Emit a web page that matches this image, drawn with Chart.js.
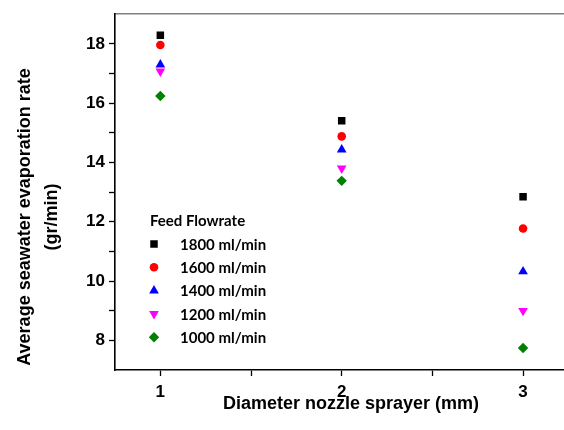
<!DOCTYPE html>
<html>
<head>
<meta charset="utf-8">
<script src="https://cdn.jsdelivr.net/npm/chart.js@4/dist/chart.umd.min.js"></script>
<style>
  html, body { margin: 0; padding: 0; background: #fff; overflow: hidden; }
  #wrap { width: 574px; height: 430px; }
</style>
</head>
<body>
<div id="wrap"><canvas id="evap" width="574" height="430"></canvas></div>
<script>
// nozzle diameter (mm)
const diameters = [1, 2, 3];
// evaporation rate (gr/min) per feed flowrate
const f1800 = [18.29, 15.41, 12.84];
const f1600 = [17.96, 14.88, 11.77];
const f1400 = [17.30, 14.43, 10.32];
const f1200 = [17.07, 13.80, 9.00];
const f1000 = [16.24, 13.38, 7.74];

const seriesNames = ["1800 ml/min", "1600 ml/min", "1400 ml/min", "1200 ml/min", "1000 ml/min"];
const xTicks = [1, 1.5, 2, 2.5, 3];
const xTickLabels = [1, 2, 3];
const yTicks = [8, 9, 10, 11, 12, 13, 14, 15, 16, 17, 18];
const yTickLabels = [8, 10, 12, 14, 16, 18];

const FONT = "'Liberation Sans', Arial, sans-serif";

function pts(ys) {
  return diameters.map((d, i) => ({ x: d, y: ys[i] }));
}

function mkSet(label, ys, color, style, r, rot) {
  return {
    label: label,
    data: pts(ys),
    backgroundColor: color,
    borderColor: color,
    borderWidth: 0,
    pointStyle: style,
    pointRadius: r,
    pointHoverRadius: r,
    rotation: rot || 0,
  };
}

// legend box drawn inside the plot
const innerLegend = {
  id: "innerLegend",
  afterDraw(chart) {
    const ctx = chart.ctx;
    ctx.save();
    ctx.font = "bold 15px Lato, 'Open Sans', sans-serif";
    ctx.fillStyle = "#000";
    ctx.textBaseline = "middle";
    ctx.textAlign = "left";
    ctx.fillText("Feed Flowrate", 150, 221);
    chart.data.datasets.forEach((ds, i) => {
      const y = 244 + i * 23.3;
      ctx.fillStyle = ds.backgroundColor;
      ctx.strokeStyle = ds.borderColor;
      Chart.helpers.drawPoint(ctx, {
        pointStyle: ds.pointStyle,
        rotation: ds.rotation,
        radius: ds.pointRadius,
        borderWidth: 0,
      }, 154, y);
      ctx.fillStyle = "#000";
      ctx.fillText(ds.label, 180, y + 1);
    });
    ctx.restore();
  },
};

// axis titles, placed like the original figure
const axisTitles = {
  id: "axisTitles",
  afterDraw(chart) {
    const ctx = chart.ctx;
    ctx.save();
    ctx.fillStyle = "#000";
    ctx.font = "bold 18px " + FONT;
    ctx.textAlign = "center";
    ctx.textBaseline = "middle";
    ctx.fillText("Diameter nozzle sprayer (mm)", 351, 404);
    ctx.translate(0, 217);
    ctx.rotate(-Math.PI / 2);
    ctx.fillText("Average seawater evaporation rate", 0, 25);
    ctx.fillText("(gr/min)", 0, 52);
    ctx.restore();
  },
};

const ctx = document.getElementById("evap").getContext("2d");
const chart = new Chart(ctx, {
  type: "scatter",
  data: {
    datasets: [
      mkSet(seriesNames[0], f1800, "#000000", "rect", 5.3),
      mkSet(seriesNames[1], f1600, "#ff0000", "circle", 4.3),
      mkSet(seriesNames[2], f1400, "#0000ff", "triangle", 5.6),
      mkSet(seriesNames[3], f1200, "#ff00ff", "triangle", 5.6, 180),
      mkSet(seriesNames[4], f1000, "#008000", "rectRot", 5.2),
    ],
  },
  options: {
    responsive: false,
    animation: false,
    layout: { padding: { top: 12, left: 0, right: 1, bottom: 0 } },
    plugins: {
      legend: { display: false },
      tooltip: { enabled: false },
    },
    scales: {
      x: {
        type: "linear",
        min: 0.75,
        max: 3.25,
        afterFit(scale) { scale.height = 60; },
        afterBuildTicks(scale) { scale.ticks = xTicks.map(v => ({ value: v })); },
        border: { display: true, color: "#000", width: 1.6 },
        grid: { drawOnChartArea: false, drawTicks: true, tickLength: 6, tickColor: "#000", tickWidth: 1.3 },
        ticks: {
          color: "#000",
          padding: 6,
          font: { family: FONT, size: 17, weight: "bold" },
          autoSkip: false,
          maxRotation: 0,
          callback: v => (xTickLabels.includes(v) ? v : ""),
        },
      },
      xTop: {
        type: "linear",
        position: "top",
        min: 0.75,
        max: 3.25,
        afterFit(scale) { scale.height = 0; },
        border: { display: true, color: "#808080", width: 1.5 },
        grid: { display: false, drawTicks: false },
        ticks: { display: false },
      },
      y: {
        min: 7,
        max: 19,
        afterFit(scale) { scale.width = 115; },
        afterBuildTicks(scale) { scale.ticks = yTicks.map(v => ({ value: v })); },
        border: { display: true, color: "#000", width: 1.6 },
        grid: { drawOnChartArea: false, drawTicks: true, tickLength: 6, tickColor: "#000", tickWidth: 1.3 },
        ticks: {
          color: "#000",
          padding: 4,
          font: { family: FONT, size: 17, weight: "bold" },
          autoSkip: false,
          callback: v => (yTickLabels.includes(v) ? v : ""),
        },
      },
    },
  },
  plugins: [innerLegend, axisTitles],
});
</script>
</body>
</html>
